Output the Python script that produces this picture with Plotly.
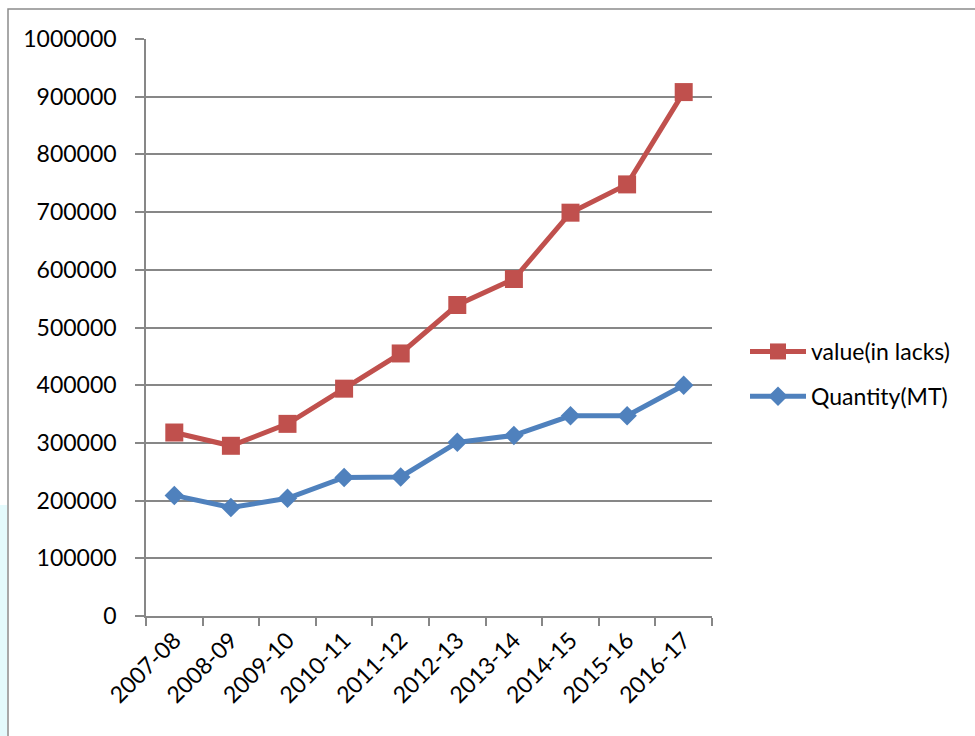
import plotly.graph_objects as go

# Financial years on the category axis
years = ["2007-08", "2008-09", "2009-10", "2010-11", "2011-12",
         "2012-13", "2013-14", "2014-15", "2015-16", "2016-17"]

# Export value (in lakhs) per year
value_lakhs = [318000, 295000, 333000, 394000, 455000,
               539000, 584000, 699000, 748000, 908000]

# Export quantity (metric tonnes) per year
quantity_mt = [209000, 188000, 204000, 240000, 241000,
               301000, 313000, 347000, 347000, 400000]

y_ticks = list(range(0, 1000001, 100000))

W, H = 975, 736
L, R, T, B = 146, 712, 39, 616
px = lambda x: (x - L) / (R - L)
py = lambda y: (B - y) / (B - T)

FONT = "Lato, 'Open Sans', sans-serif"
RED = "#C0504D"
BLUE = "#4F81BD"
GRID = "#878787"

fig = go.Figure()
fig.add_trace(go.Scatter(
    x=years, y=value_lakhs, name="value(in lacks)", mode="lines+markers",
    line=dict(color=RED, width=5),
    marker=dict(symbol="square", size=18, color=RED, line=dict(width=0)),
    legendgroup="v",
))
fig.add_trace(go.Scatter(
    x=years, y=quantity_mt, name="Quantity(MT)", mode="lines+markers",
    line=dict(color=BLUE, width=5),
    marker=dict(symbol="diamond", size=15, color=BLUE, line=dict(width=0)),
    legendgroup="q",
))

fig.update_layout(
    width=W, height=H,
    margin=dict(l=L, r=W - R, t=T, b=H - B, pad=0),
    paper_bgcolor="white", plot_bgcolor="white",
    font=dict(family=FONT, size=23, color="black"),
    showlegend=True,
    legend=dict(
        x=px(745), y=py(374), xanchor="left", yanchor="middle",
        font=dict(family=FONT, size=23, color="black"),
        itemwidth=56, tracegroupgap=12, traceorder="grouped",
        bgcolor="rgba(0,0,0,0)",
    ),
    xaxis=dict(
        type="category", tickson="boundaries",
        showgrid=False, showline=True, linecolor=GRID, linewidth=1.5,
        ticks="outside", ticklen=8, tickcolor=GRID, tickwidth=1.5,
        tickangle=-45, tickfont=dict(family=FONT, size=23, color="black"),
        range=[-0.5, len(years) - 0.5],
    ),
    yaxis=dict(
        range=[0, 1000000], tickvals=y_ticks, tickformat="d",
        showgrid=True, gridcolor=GRID, gridwidth=1.5,
        showline=True, linecolor=GRID, linewidth=1.5,
        ticks="outside", ticklen=9, tickcolor=GRID, tickwidth=1.5,
        ticklabelstandoff=14, zeroline=False,
        tickfont=dict(family=FONT, size=23, color="black"),
    ),
    shapes=[
        # outer chart-area frame
        dict(type="rect", xref="paper", yref="paper",
             x0=px(8), x1=px(990), y0=py(750), y1=py(9),
             line=dict(color="#8c8c8c", width=1.5), fillcolor="rgba(0,0,0,0)",
             layer="below"),
        # pale cyan strip at the far left edge
        dict(type="rect", xref="paper", yref="paper",
             x0=px(0), x1=px(7), y0=py(736), y1=py(505),
             line=dict(width=0), fillcolor="rgba(205,245,250,0.55)",
             layer="below"),
    ],
)

fig.write_html("out.html")
